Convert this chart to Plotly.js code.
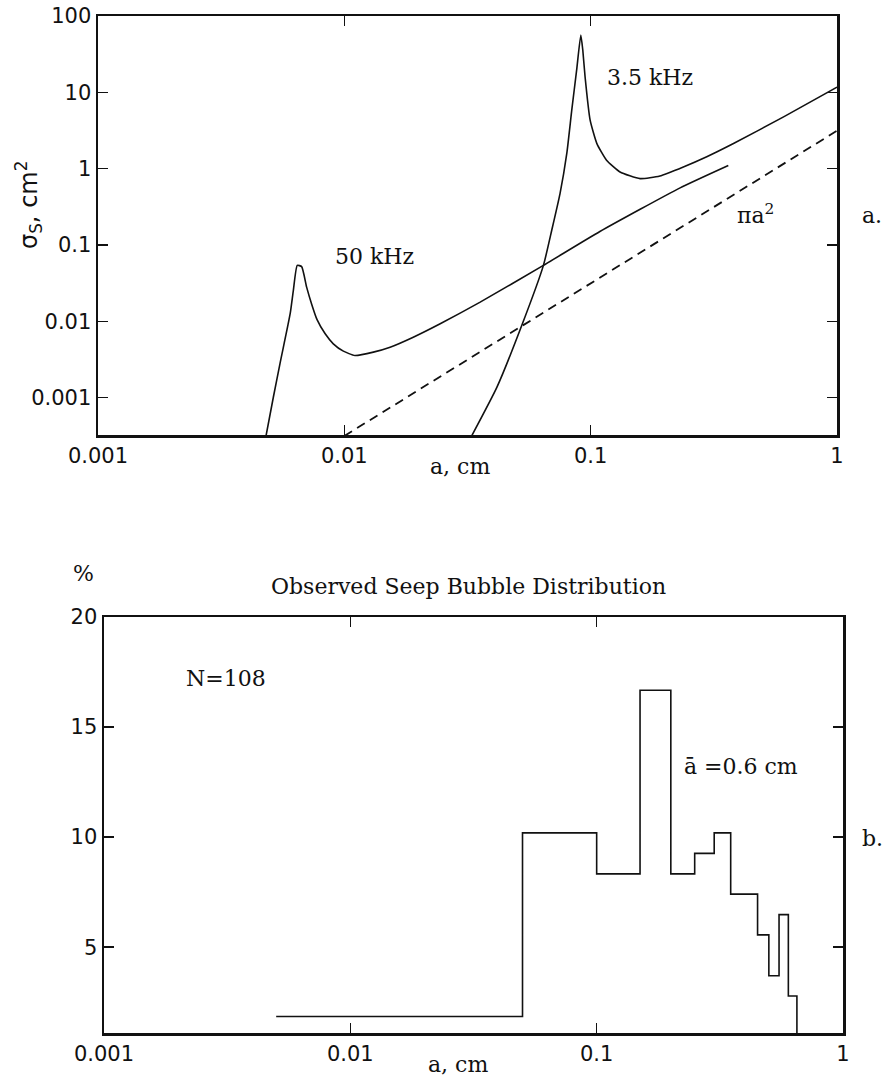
<!DOCTYPE html>
<html>
<head>
<meta charset="utf-8">
<script src="https://cdn.plot.ly/plotly-3.0.1.min.js"></script>
<style>
  html, body { margin: 0; padding: 0; background: #fff; }
  #chart { width: 884px; height: 1080px; }
</style>
</head>
<body>
<div id="chart"></div>
<script>
// ---------- data ----------
// Panel a: scattering cross-section vs bubble radius
const radius50k = [0.00481, 0.00515, 0.00548, 0.00603, 0.00621, 0.00644, 0.00671, 0.00703, 0.00738, 0.00775, 0.00836, 0.00902, 0.00991, 0.01104, 0.01312, 0.01534, 0.01905, 0.0245, 0.0356, 0.0643, 0.109, 0.2307, 0.362];
const sigma50k  = [0.000316, 0.00101, 0.00279, 0.01265, 0.0254, 0.054, 0.052, 0.028, 0.0165, 0.0105, 0.00685, 0.00507, 0.00406, 0.00356, 0.00394, 0.00457, 0.00618, 0.00927, 0.0178, 0.054, 0.15, 0.56, 1.1];

const radius3k5 = [0.0329, 0.0416, 0.0525, 0.0643, 0.0695, 0.0751, 0.0800, 0.0838, 0.0877, 0.0912, 0.0929, 0.0949, 0.0995, 0.106, 0.116, 0.1316, 0.1587, 0.191, 0.2378, 0.296, 0.380, 0.607, 1.0];
const sigma3k5  = [0.000316, 0.00136, 0.0088, 0.054, 0.156, 0.471, 1.58, 5.83, 19.5, 56.4, 35.8, 15.97, 4.32, 2.13, 1.29, 0.905, 0.741, 0.80, 1.05, 1.43, 2.13, 4.77, 11.7];

const radiusGeo = [0.01, 0.1, 1];
const sigmaGeo  = [0.000314, 0.0314, 3.14];

// Panel b: observed seep bubble distribution (bin edges in cm, percent per bin)
const binEdges = [0.005, 0.05, 0.1, 0.15, 0.2, 0.25, 0.3, 0.35, 0.45, 0.5, 0.55, 0.6, 0.65];
const binPct   = [1.85, 10.19, 8.33, 16.67, 8.33, 9.26, 10.19, 7.41, 5.56, 3.70, 6.48, 2.78, 0];

// Tick labels
const topXTicks = [0.001, 0.01, 0.1, 1];
const topXLabels = ['0.001', '0.01', '0.1', '1'];
const topYTicks = [0.001, 0.01, 0.1, 1, 10, 100];
const topYLabels = ['0.001', '0.01', '0.1', '1', '10', '100'];
const botYTicks = [5, 10, 15, 20];
const botYLabels = ['5', '10', '15', '20'];

// ---------- helpers ----------
const W = 884, H = 1080;
const px = x => x / W;
const py = y => 1 - y / H;

const INK = '#111';
const tickFont = { family: 'DejaVu Sans, Liberation Sans, sans-serif', size: 21, color: INK };
const serifFont = { family: 'DejaVu Serif, Liberation Serif, serif', size: 22, color: INK };

function axisBase(extra) {
  return Object.assign({
    showline: true, linecolor: INK, linewidth: 2.5, mirror: 'ticks',
    ticks: 'inside', ticklen: 10, tickwidth: 1.5, tickcolor: INK,
    showgrid: false, zeroline: false, tickfont: tickFont, fixedrange: true
  }, extra);
}

const lineStyle = { color: INK, width: 1.6 };

const traces = [
  { x: radius50k, y: sigma50k, xaxis: 'x', yaxis: 'y', mode: 'lines', line: Object.assign({ shape: 'spline', smoothing: 0.5 }, lineStyle), hoverinfo: 'skip', showlegend: false },
  { x: radius3k5, y: sigma3k5, xaxis: 'x', yaxis: 'y', mode: 'lines', line: Object.assign({ shape: 'spline', smoothing: 0.5 }, lineStyle), hoverinfo: 'skip', showlegend: false },
  { x: radiusGeo, y: sigmaGeo, xaxis: 'x', yaxis: 'y', mode: 'lines', line: { color: INK, width: 1.8, dash: '9px,6px' }, hoverinfo: 'skip', showlegend: false },
  { x: binEdges, y: binPct, xaxis: 'x2', yaxis: 'y2', mode: 'lines', line: Object.assign({ shape: 'hv' }, lineStyle), hoverinfo: 'skip', showlegend: false }
];

const layout = {
  width: W, height: H,
  margin: { l: 0, r: 0, t: 0, b: 0, pad: 0 },
  paper_bgcolor: '#fff', plot_bgcolor: '#fff',
  showlegend: false,
  xaxis: axisBase({
    type: 'log', domain: [px(98), px(837)], range: [-3, 0], anchor: 'y',
    tickmode: 'array', tickvals: topXTicks, ticktext: topXLabels
  }),
  yaxis: axisBase({
    type: 'log', domain: [py(435), py(16)], range: [-3.49, 2], anchor: 'x',
    tickmode: 'array', tickvals: topYTicks, ticktext: topYLabels
  }),
  xaxis2: axisBase({
    type: 'log', domain: [px(104), px(843)], range: [-3, 0], anchor: 'y2',
    tickmode: 'array', tickvals: topXTicks, ticktext: topXLabels
  }),
  yaxis2: axisBase({
    domain: [py(1033), py(617)], range: [1.1, 20], anchor: 'x2',
    tickmode: 'array', tickvals: botYTicks, ticktext: botYLabels
  }),
  annotations: [
    { xref: 'paper', yref: 'paper', x: px(28), y: py(205), text: 'σ<sub>S</sub>, cm<sup>2</sup>', textangle: -90, showarrow: false, font: { family: 'DejaVu Sans, Liberation Sans, sans-serif', size: 24, color: INK }, xanchor: 'center', yanchor: 'middle' },
    { xref: 'paper', yref: 'paper', x: px(460), y: py(467), text: 'a, cm', showarrow: false, font: serifFont, xanchor: 'center', yanchor: 'middle' },
    { xref: 'paper', yref: 'paper', x: px(374), y: py(257), text: '50 kHz', showarrow: false, font: serifFont, xanchor: 'center', yanchor: 'middle' },
    { xref: 'paper', yref: 'paper', x: px(650), y: py(78), text: '3.5 kHz', showarrow: false, font: serifFont, xanchor: 'center', yanchor: 'middle' },
    { xref: 'paper', yref: 'paper', x: px(755), y: py(214), text: 'πa<sup>2</sup>', showarrow: false, font: serifFont, xanchor: 'center', yanchor: 'middle' },
    { xref: 'paper', yref: 'paper', x: px(872), y: py(215), text: 'a.', showarrow: false, font: serifFont, xanchor: 'center', yanchor: 'middle' },
    { xref: 'paper', yref: 'paper', x: px(83), y: py(573), text: '%', showarrow: false, font: serifFont, xanchor: 'center', yanchor: 'middle' },
    { xref: 'paper', yref: 'paper', x: px(468), y: py(586), text: 'Observed Seep Bubble Distribution', showarrow: false, font: serifFont, xanchor: 'center', yanchor: 'middle' },
    { xref: 'paper', yref: 'paper', x: px(226), y: py(678), text: 'N=108', showarrow: false, font: serifFont, xanchor: 'center', yanchor: 'middle' },
    { xref: 'paper', yref: 'paper', x: px(741), y: py(766), text: 'ā =0.6 cm', showarrow: false, font: serifFont, xanchor: 'center', yanchor: 'middle' },
    { xref: 'paper', yref: 'paper', x: px(860), y: py(838), text: 'b.', showarrow: false, font: serifFont, xanchor: 'left', yanchor: 'middle' },
    { xref: 'paper', yref: 'paper', x: px(458), y: py(1064), text: 'a, cm', showarrow: false, font: serifFont, xanchor: 'center', yanchor: 'middle' }
  ]
};

Plotly.newPlot('chart', traces, layout, { staticPlot: true, displayModeBar: false });
</script>
</body>
</html>
